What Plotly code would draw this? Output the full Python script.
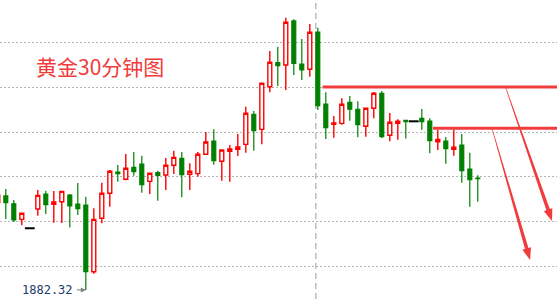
import plotly.graph_objects as go

# 30-minute gold candles (index, open, high, low, close)
idx = list(range(-1, 60))
opens = [1892.10, 1892.85, 1891.98, 1890.23, 1889.23, 1891.39, 1893.07, 1891.92, 1892.21, 1892.96,
         1891.95, 1891.84, 1884.36, 1890.35, 1893.15, 1895.54, 1894.72, 1896.06, 1896.43, 1894.49,
         1895.46, 1895.20, 1896.29, 1897.07, 1895.28, 1895.35, 1897.52, 1899.01, 1896.74, 1897.86,
         1898.08, 1898.64, 1902.01, 1900.32, 1905.10, 1907.79, 1907.53, 1912.47, 1907.64, 1907.05,
         1911.23, 1903.16, 1900.88, 1900.99, 1903.35, 1902.57, 1900.66, 1902.68, 1904.36, 1899.65,
         1900.99, 1901.33, 1901.22, 1901.56, 1901.25, 1898.93, 1899.01, 1898.08, 1898.56, 1895.87,
         1894.86]
highs = [1893.29, 1893.63, 1892.40, 1890.91, 1889.23, 1893.52, 1893.44, 1893.41, 1893.40, 1893.07,
         1894.30, 1892.77, 1891.47, 1894.34, 1895.76, 1896.32, 1897.56, 1897.78, 1897.36, 1895.42,
         1895.68, 1897.11, 1897.92, 1897.78, 1896.51, 1897.78, 1900.02, 1900.32, 1898.05, 1898.56,
         1899.80, 1902.86, 1902.38, 1905.52, 1909.10, 1909.58, 1912.84, 1912.66, 1910.45, 1912.13,
         1911.71, 1904.47, 1901.82, 1903.80, 1904.06, 1903.46, 1902.72, 1904.51, 1904.62, 1902.15,
         1901.45, 1901.36, 1901.22, 1902.60, 1901.56, 1900.25, 1899.46, 1900.32, 1899.80, 1897.70,
         1895.17]
lows = [1891.84, 1890.27, 1889.93, 1889.56, 1889.23, 1890.64, 1890.83, 1889.85, 1889.82, 1889.31,
        1890.72, 1882.32, 1884.14, 1889.79, 1891.65, 1894.45, 1894.62, 1895.12, 1893.22, 1893.07,
        1892.32, 1893.52, 1895.31, 1892.70, 1893.52, 1895.01, 1897.45, 1896.36, 1894.56, 1894.45,
        1897.33, 1897.70, 1897.92, 1898.64, 1904.47, 1905.18, 1904.73, 1906.41, 1905.85, 1906.22,
        1902.49, 1899.24, 1899.38, 1900.84, 1901.29, 1899.43, 1899.49, 1901.56, 1899.35, 1898.98,
        1899.16, 1899.29, 1901.22, 1900.28, 1897.63, 1898.00, 1896.47, 1897.36, 1894.34, 1891.65,
        1892.21]
closes = [1892.96, 1892.10, 1890.16, 1890.91, 1889.23, 1892.92, 1891.87, 1892.17, 1893.37, 1891.73,
          1891.42, 1884.36, 1890.23, 1893.15, 1895.62, 1895.35, 1895.95, 1895.57, 1894.11, 1895.39,
          1895.17, 1896.29, 1897.18, 1895.23, 1895.62, 1897.52, 1898.90, 1896.80, 1898.00, 1898.12,
          1898.34, 1902.12, 1900.17, 1905.48, 1907.84, 1907.45, 1912.32, 1907.72, 1906.97, 1911.20,
          1902.97, 1900.50, 1901.03, 1903.13, 1902.57, 1900.84, 1902.68, 1904.36, 1899.49, 1901.11,
          1901.22, 1901.18, 1901.22, 1901.18, 1899.05, 1899.20, 1898.15, 1898.31, 1895.68, 1894.67,
          1894.79]

# Hand-drawn resistance levels (price, starting candle index)
level_prices = [1905.07, 1900.44]
level_starts = [39.6, 53.4]

# Forecast arrows: (x0, y0) -> (x1, y1) in candle index / price
arrow_x0 = [62.46, 60.77]
arrow_y0 = [1905.07, 1900.44]
arrow_x1 = [68.28, 65.53]
arrow_y1 = [1890.04, 1885.67]

session_break = 38.75
title_text = "黄金30分钟图"

W, H = 557, 299
x_range = [-0.725, 68.9]
y_range = [1881.30, 1914.82]

RED = "#ff0000"
GREEN = "#008000"
MARK = "#f03c3c"

# Split regular candles from flat dojis (open == high == low == close)
reg = [i for i in range(len(idx)) if not (opens[i] == closes[i] == highs[i] == lows[i])]
flat = [i for i in range(len(idx)) if opens[i] == closes[i] == highs[i] == lows[i]]

fig = go.Figure()
fig.add_trace(go.Candlestick(
    x=[idx[i] for i in reg],
    open=[opens[i] for i in reg],
    high=[highs[i] for i in reg],
    low=[lows[i] for i in reg],
    close=[closes[i] for i in reg],
    increasing=dict(line=dict(color=RED, width=1.4), fillcolor="white"),
    decreasing=dict(line=dict(color=GREEN, width=1.2), fillcolor=GREEN),
    whiskerwidth=0,
    hoverinfo="skip",
    showlegend=False,
))
fig.add_trace(go.Scatter(
    x=[idx[i] for i in flat],
    y=[closes[i] for i in flat],
    mode="markers",
    marker=dict(symbol="line-ew", size=7, line=dict(color="black", width=2)),
    hoverinfo="skip",
    showlegend=False,
))

shapes = []
# session separator
shapes.append(dict(type="line", xref="x", yref="paper", x0=session_break, x1=session_break,
                   y0=0, y1=1, line=dict(color="#bdbdbd", width=1.5, dash="6px,4px"), layer="below"))
# resistance lines
for p, s in zip(level_prices, level_starts):
    shapes.append(dict(type="line", xref="x", yref="y", x0=s, x1=x_range[1] + 1, y0=p, y1=p,
                       line=dict(color=MARK, width=3)))

# tapered arrows, built in pixel space and mapped back to data coordinates
sx = W / (x_range[1] - x_range[0])
sy = H / (y_range[1] - y_range[0])


def to_px(x, y):
    return (x - x_range[0]) * sx, (y_range[1] - y) * sy


def to_data(px, py):
    return px / sx + x_range[0], y_range[1] - py / sy


for xa, ya, xb, yb in zip(arrow_x0, arrow_y0, arrow_x1, arrow_y1):
    ax_, ay_ = to_px(xa, ya)
    bx_, by_ = to_px(xb, yb)
    dx, dy = bx_ - ax_, by_ - ay_
    ln = (dx * dx + dy * dy) ** 0.5
    ux, uy = dx / ln, dy / ln
    nx, ny = -uy, ux
    head_len, head_half = 12.0, 4.5
    w0, w1 = 0.3, 1.8
    hx, hy = bx_ - ux * head_len, by_ - uy * head_len
    pts = [
        (ax_ + nx * w0, ay_ + ny * w0),
        (hx + nx * w1, hy + ny * w1),
        (hx + nx * head_half, hy + ny * head_half),
        (bx_, by_),
        (hx - nx * head_half, hy - ny * head_half),
        (hx - nx * w1, hy - ny * w1),
        (ax_ - nx * w0, ay_ - ny * w0),
    ]
    dpts = [to_data(px, py) for px, py in pts]
    path = "M " + " L ".join(f"{x:.5f},{y:.5f}" for x, y in dpts) + " Z"
    shapes.append(dict(type="path", xref="x", yref="y", path=path,
                       fillcolor=MARK, line=dict(width=0)))

low_i = min(range(len(idx)), key=lambda i: lows[i])
annotations = [
    dict(xref="paper", yref="paper", x=34 / W, y=1 - 66 / H, xanchor="left", yanchor="middle",
         text=title_text, showarrow=False,
         font=dict(family="Noto Sans CJK SC", size=21, color=MARK)),
    dict(xref="x", yref="y", x=idx[low_i], y=lows[low_i], text=f"{lows[low_i]:.2f}",
         showarrow=True, ax=-38, ay=0, arrowhead=2, arrowsize=1, arrowwidth=1,
         arrowcolor="#808080", standoff=0, startstandoff=2,
         font=dict(family="DejaVu Sans Mono", size=12, color="#1c3a68")),
]

fig.update_layout(
    width=W, height=H,
    margin=dict(l=0, r=0, t=0, b=0),
    paper_bgcolor="white", plot_bgcolor="white",
    shapes=shapes, annotations=annotations,
    showlegend=False,
    xaxis=dict(range=x_range, showgrid=False, zeroline=False, showticklabels=False,
               rangeslider=dict(visible=False), fixedrange=True),
    yaxis=dict(range=y_range, dtick=5, tick0=1885, showgrid=True, gridcolor="#b4b4b4",
               gridwidth=1, griddash="2px,2px", zeroline=False, showticklabels=False,
               fixedrange=True),
)

fig.write_html("out.html")
